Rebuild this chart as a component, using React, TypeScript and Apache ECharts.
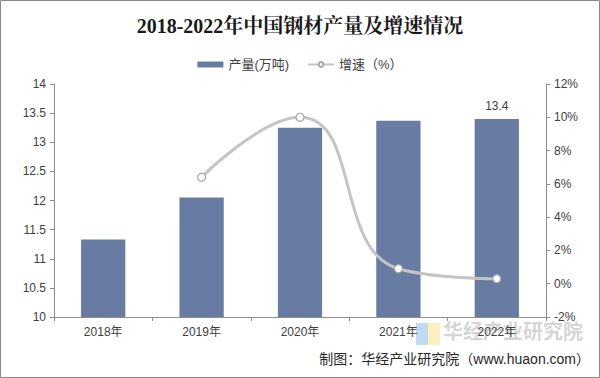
import React, { useEffect, useRef } from "react";
import * as echarts from "echarts";

const years = ["2018年", "2019年", "2020年", "2021年", "2022年"];
const output = [11.33, 12.05, 13.25, 13.37, 13.4];
const growth = [null, 6.4, 10.0, 0.9, 0.3];
const leftTicks = { min: 10, max: 14, interval: 0.5 };
const rightTicks = { min: -2, max: 12, interval: 2 };

export default function App() {
  const ref = useRef<HTMLDivElement>(null);
  useEffect(() => {
    const chart = echarts.init(ref.current!, null, { renderer: "svg" });
    const labelFont = "Liberation Sans, Arial, Noto Sans CJK SC, sans-serif";
    chart.setOption({
      animation: false,
      backgroundColor: "#ffffff",
      title: {
        text: "2018-2022年中国钢材产量及增速情况",
        left: "center",
        top: 11,
        textStyle: {
          fontSize: 20,
          fontWeight: "bold",
          color: "#1a1a1a",
          fontFamily: "Liberation Serif, Noto Serif CJK SC, Noto Sans CJK SC, serif",
        },
      },
      legend: {
        top: 53,
        left: "center",
        itemGap: 18,
        itemWidth: 26,
        itemHeight: 6,
        textStyle: { fontSize: 13, color: "#404040", fontFamily: labelFont },
        data: [
          { name: "产量(万吨)", icon: "rect" },
          { name: "增速（%）" },
        ],
      },
      grid: { left: 54, right: 54, top: 84, bottom: 61 },
      xAxis: {
        type: "category",
        data: years,
        boundaryGap: true,
        axisLine: { onZero: false, lineStyle: { color: "#8c8c8c" } },
        axisTick: { show: true, length: 4, lineStyle: { color: "#8c8c8c" } },
        axisLabel: { color: "#404040", fontSize: 12, margin: 9, fontFamily: labelFont },
      },
      yAxis: [
        {
          type: "value",
          ...leftTicks,
          splitLine: { show: false },
          axisLine: { show: true, lineStyle: { color: "#8c8c8c" } },
          axisTick: { show: true, length: 4, lineStyle: { color: "#8c8c8c" } },
          axisLabel: { color: "#404040", fontSize: 12, margin: 8, fontFamily: labelFont },
        },
        {
          type: "value",
          ...rightTicks,
          splitLine: { show: false },
          axisLine: { show: true, lineStyle: { color: "#8c8c8c" } },
          axisTick: { show: true, length: 4, lineStyle: { color: "#8c8c8c" } },
          axisLabel: {
            color: "#404040",
            fontSize: 12,
            margin: 8,
            fontFamily: labelFont,
            formatter: "{value}%",
          },
        },
      ],
      series: [
        {
          name: "产量(万吨)",
          type: "bar",
          barWidth: "45%",
          itemStyle: { color: "#687ba3" },
          data: output.map((v, i) =>
            i === output.length - 1
              ? {
                  value: v,
                  label: {
                    show: true,
                    position: "top",
                    distance: 7,
                    color: "#404040",
                    fontSize: 12,
                    fontFamily: labelFont,
                    formatter: (p: any) => p.value.toFixed(1),
                  },
                }
              : v
          ),
        },
        {
          name: "增速（%）",
          type: "line",
          yAxisIndex: 1,
          smooth: 0.5,
          symbol: "circle",
          symbolSize: 8,
          lineStyle: { color: "#c4c4c4", width: 3 },
          itemStyle: { color: "#ffffff", borderColor: "#a6a6a6", borderWidth: 1.2 },
          data: growth,
        },
      ],
      graphic: [
        {
          type: "rect",
          shape: { x: 0.5, y: 0.5, width: 599, height: 377 },
          style: { fill: "none", stroke: "#8a8a8a", lineWidth: 1 },
          silent: true,
        },
        {
          type: "rect",
          shape: { x: 416, y: 323, width: 12, height: 22 },
          style: { fill: "rgba(120,170,230,0.45)" },
          silent: true,
        },
        {
          type: "rect",
          shape: { x: 428, y: 323, width: 12, height: 22 },
          style: { fill: "rgba(250,220,120,0.45)" },
          silent: true,
        },
        {
          type: "text",
          x: 443,
          y: 320,
          style: {
            text: "华经产业研究院",
            fontSize: 20,
            fontWeight: "bold",
            fill: "rgba(160,160,160,0.45)",
            fontFamily: "Noto Sans CJK SC, sans-serif",
          },
          silent: true,
        },
        {
          type: "text",
          right: 10,
          y: 352,
          style: {
            text: "制图：华经产业研究院（www.huaon.com）",
            fontSize: 14,
            fill: "#262626",
            fontFamily: labelFont,
          },
          silent: true,
        },
      ],
    });
    return () => chart.dispose();
  }, []);
  return (
    <div
      ref={ref}
      style={{ position: "fixed", left: 0, top: 0, width: 600, height: 378 }}
    />
  );
}
